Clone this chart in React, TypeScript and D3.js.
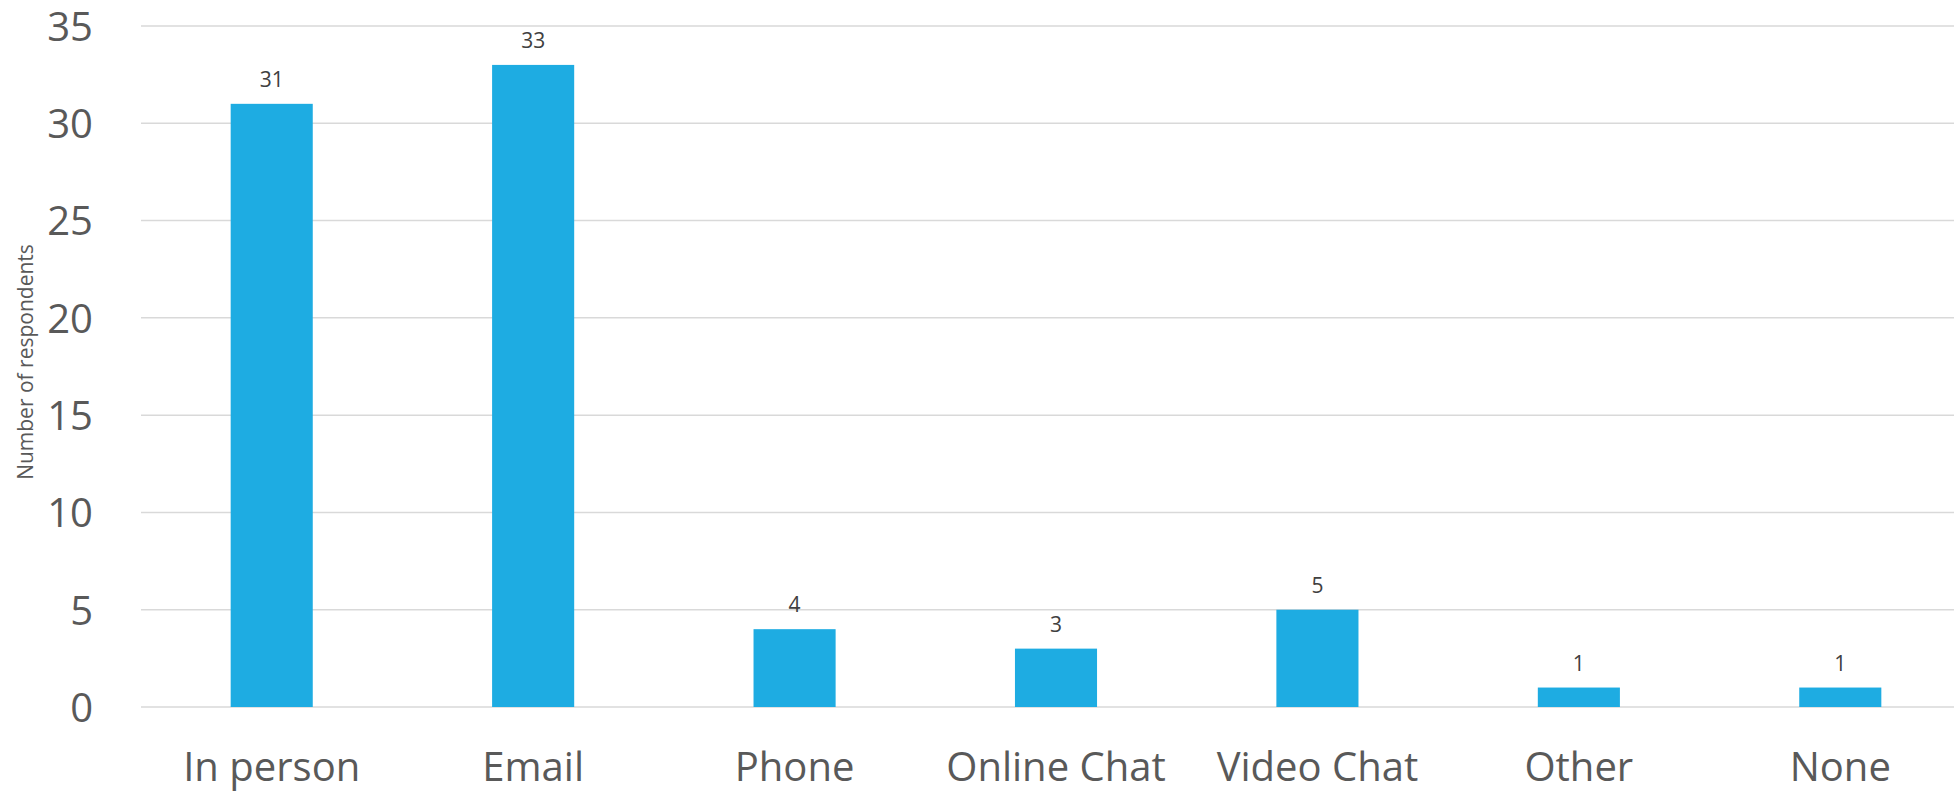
import React, { useEffect, useRef } from 'react';
import * as d3 from 'd3';

const categories = ['In person', 'Email', 'Phone', 'Online Chat', 'Video Chat', 'Other', 'None'];
const respondents = [31, 33, 4, 3, 5, 1, 1];
const yTicks = [0, 5, 10, 15, 20, 25, 30, 35];

const width = 1954;
const height = 791;
const font = '"Open Sans", "Noto Sans", sans-serif';

export default function App() {
	const ref = useRef<SVGSVGElement>(null);

	useEffect(() => {
		const svg = d3.select(ref.current);
		svg.selectAll('*').remove();

		// scales
		const x = d3
			.scaleBand()
			.domain(categories)
			.range([141, 1971])
			.paddingInner(0.686)
			.paddingOuter(0.343);

		const y = d3.scaleLinear().domain([0, 35]).range([707, 26]);

		// gridlines
		svg
			.append('g')
			.selectAll('line')
			.data(yTicks)
			.enter()
			.append('line')
			.attr('x1', 141)
			.attr('x2', width)
			.attr('y1', d => y(d))
			.attr('y2', d => y(d))
			.attr('stroke', '#d9d9d9')
			.attr('stroke-width', 1.5);

		// y tick labels
		svg
			.append('g')
			.selectAll('text')
			.data(yTicks)
			.enter()
			.append('text')
			.attr('x', 93)
			.attr('y', d => y(d))
			.attr('dy', '0.37em')
			.attr('text-anchor', 'end')
			.attr('font-family', font)
			.attr('font-size', 40)
			.attr('fill', '#595959')
			.text(d => d);

		// bars
		svg
			.append('g')
			.selectAll('rect')
			.data(respondents)
			.enter()
			.append('rect')
			.attr('x', (d, i) => x(categories[i]) as number)
			.attr('y', d => y(d))
			.attr('width', x.bandwidth())
			.attr('height', d => y(0) - y(d))
			.attr('fill', '#1eace2');

		// value labels
		svg
			.append('g')
			.selectAll('text')
			.data(respondents)
			.enter()
			.append('text')
			.attr('x', (d, i) => (x(categories[i]) as number) + x.bandwidth() / 2)
			.attr('y', d => y(d) - 17)
			.attr('text-anchor', 'middle')
			.attr('font-family', font)
			.attr('font-size', 21)
			.attr('fill', '#404040')
			.text(d => d);

		// category labels
		svg
			.append('g')
			.selectAll('text')
			.data(categories)
			.enter()
			.append('text')
			.attr('x', d => (x(d) as number) + x.bandwidth() / 2)
			.attr('y', 781)
			.attr('text-anchor', 'middle')
			.attr('font-family', font)
			.attr('font-size', 40)
			.attr('fill', '#595959')
			.text(d => d);

		// axis title
		svg
			.append('text')
			.attr('transform', 'translate(33,362) rotate(-90)')
			.attr('text-anchor', 'middle')
			.attr('font-family', font)
			.attr('font-size', 21)
			.attr('fill', '#595959')
			.text('Number of respondents');
	}, []);

	return (
		<div style={{ position: 'absolute', left: 0, top: 0 }}>
			<svg ref={ref} width={width} height={height} style={{ display: 'block', background: '#fff' }} />
		</div>
	);
}
